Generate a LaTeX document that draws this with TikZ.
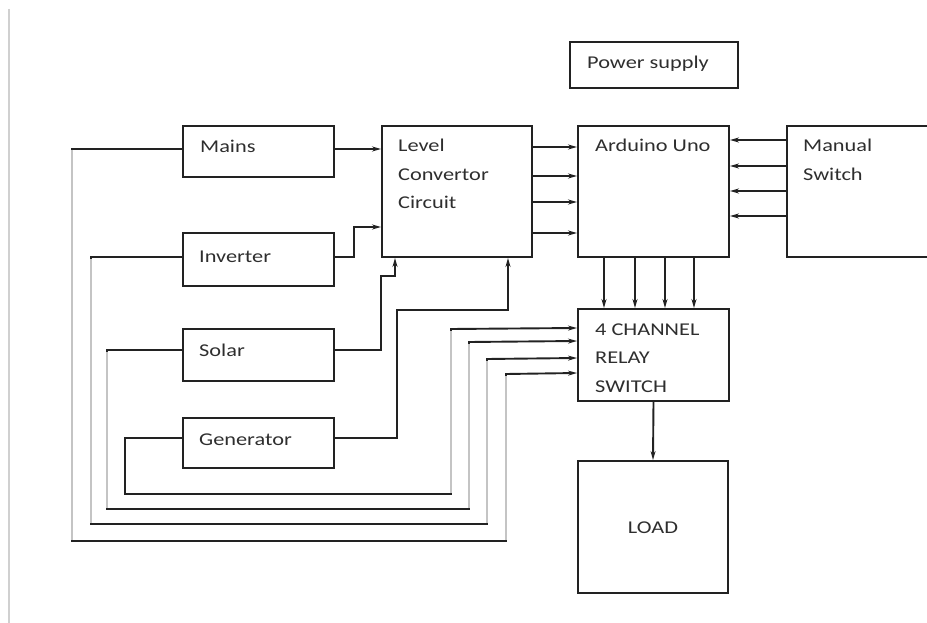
\documentclass[tikz,border=0pt]{standalone}
\usepackage{fontspec}
\setmainfont{Carlito}[FakeStretch=1.24]
\usetikzlibrary{arrows.meta,calc}
\definecolor{ink}{HTML}{222222}
\definecolor{txt}{HTML}{2E2E2E}
\definecolor{faint}{HTML}{C4C4C4}
\tikzset{
  box/.style={draw=ink, line width=2pt, fill=none, inner sep=0pt},
  lbl/.style={anchor=base west, inner sep=0pt, text=txt, font=\fontsize{18}{21}\selectfont},
  wire/.style={draw=ink, line width=1.9pt},
  arr/.style={wire, -{Stealth[length=9pt,width=5pt]}},
  pale/.style={draw=faint, line width=1.6pt},
}
\begin{document}
\begin{tikzpicture}[x=1pt,y=-1pt]
\useasboundingbox (0,0) rectangle (927,623);
% page edge line
\draw[draw=faint!80, line width=2pt] (8.5,9) -- (8.5,623);

% boxes
\node[box, minimum width=168pt, minimum height=46pt] (psu) at (654,65) {};
\node[box, minimum width=151pt, minimum height=51pt] (mains) at (258.5,151.5) {};
\node[box, minimum width=151pt, minimum height=53pt] (inv) at (258.5,259.5) {};
\node[box, minimum width=151pt, minimum height=52pt] (solar) at (258.5,355) {};
\node[box, minimum width=151pt, minimum height=50pt] (gen) at (258.5,443) {};
\node[box, minimum width=150pt, minimum height=131pt] (lvl) at (457,191.5) {};
\node[box, minimum width=151pt, minimum height=131pt] (ard) at (653.5,191.5) {};
\node[box, minimum width=150pt, minimum height=131pt] (man) at (862,191.5) {};
\node[box, minimum width=151pt, minimum height=92pt] (relay) at (653.5,355) {};
\node[box, minimum width=150pt, minimum height=132pt] (load) at (653,527) {};

% labels
\node[lbl] (tpsu) at (587,69) {Power supply};
\node[lbl] (tmains) at (200,153) {Mains};
\node[lbl] (tinv) at (199,262) {Inverter};
\node[lbl] (tsolar) at (199,356) {Solar};
\node[lbl] (tgen) at (199,445) {Generator};
\node[lbl] (tlvl1) at (398,152) {Level};
\node[lbl] (tlvl2) at (398,181) {Convertor};
\node[lbl] (tlvl3) at (398,208) {Circuit};
\node[lbl] (tard) at (595,152) {Arduino Uno};
\node[lbl] (tman1) at (803,152) {Manual};
\node[lbl] (tman2) at (803,181) {Switch};
\node[lbl] (trel1) at (595,335) {4 CHANNEL};
\node[lbl] (trel2) at (595,363) {RELAY};
\node[lbl] (trel3) at (595,392) {SWITCH};
\node[lbl, anchor=base] (tload) at (653,533) {LOAD};

% sources -> level convertor
\draw[arr] ($(mains.east)+(0,-2.5)$) -- ($(lvl.west|-mains.east)+(0,-2.5)$);
\draw[arr] ($(inv.east)+(0,-2.5)$) -- ++(19,0) |- ($(lvl.north west)+(0,102)$);
\draw[arr] ($(solar.east)+(0,-5)$) -| ($(lvl.south west)+(0,18)$) -| ($(lvl.south west)+(14,0)$);
\draw[arr] ($(gen.east)+(0,-5)$) -| ($(lvl.south west)+(16,52)$) -| ($(lvl.south east)+(-25,0)$);

% level convertor -> arduino
\foreach \d in {22,51,77,108}{
  \draw[arr] ($(lvl.north east)+(0,\d)$) -- ($(ard.north west)+(0,\d)$);
}
% manual switch -> arduino
\foreach \d in {15,41,66,91}{
  \draw[arr] ($(man.north west)+(0,\d)$) -- ($(ard.north east)+(0,\d)$);
}
% arduino -> relay
\foreach \d in {27,58,88,117}{
  \draw[arr] ($(ard.south west)+(\d,0)$) -- ($(relay.north west)+(\d,0)$);
}
% relay -> load
\draw[arr] (relay.south) -- (load.north);

% sources -> relay (feedback loops)
\draw[arr] ($(mains.west)+(0,-2.5)$) -| (72,541) -| (506,374) -- ($(relay.north west)+(0,65)$);
\draw[arr] ($(inv.west)+(0,-2.5)$) -| (91,524) -| (487,359) -- ($(relay.north west)+(0,50)$);
\draw[arr] ($(solar.west)+(0,-5)$) -| (107,509) -| (469,342) -- ($(relay.north west)+(0,33)$);
\draw[arr] ($(gen.west)+(0,-5)$) -| (125,494) -| (451,329) -- ($(relay.north west)+(0,20)$);

% faint vertical runs (as printed)
\draw[pale] (72,150.5) -- (72,539.5);
\draw[pale] (91,258.5) -- (91,522.5);
\draw[pale] (107,351.5) -- (107,507.5);
\draw[pale] (451,492.5) -- (451,330.5);
\draw[pale] (469,507.5) -- (469,343.5);
\draw[pale] (487,522.5) -- (487,360.5);
\draw[pale] (506,539.5) -- (506,375.5);
\end{tikzpicture}
\end{document}
